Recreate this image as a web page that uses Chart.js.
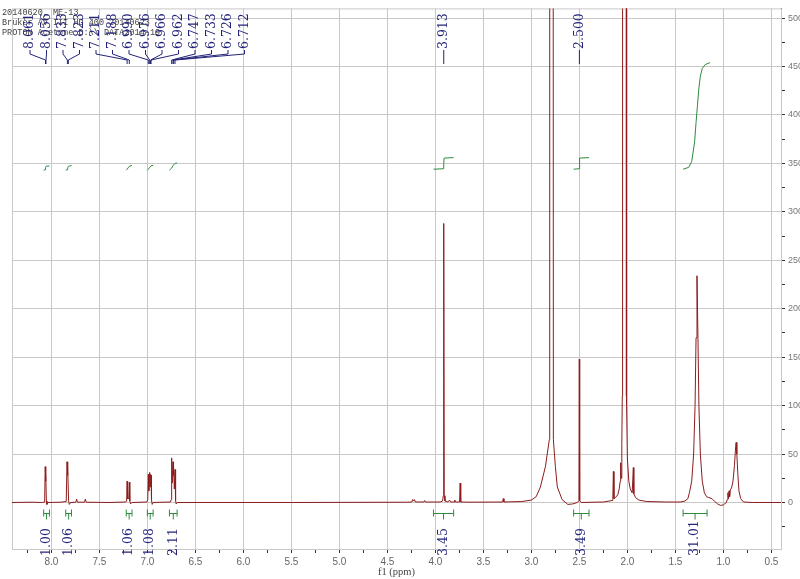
<!DOCTYPE html>
<html>
<head>
<meta charset="utf-8">
<title>ME-13 PROTON</title>
<script src="https://cdn.jsdelivr.net/npm/chart.js@4.4.0/dist/chart.umd.min.js"></script>
<style>
  html, body { margin: 0; padding: 0; background: #fff; }
</style>
</head>
<body>
<canvas id="nmr" width="800" height="579"></canvas>
<script>
// spectrum trace: shift (ppm) and intensity
const specPpm = [
  8.41, 8.20, 8.10, 8.070, 8.064, 8.060, 8.057, 8.052, 8.046, 8.035,
  7.900, 7.845, 7.837, 7.832, 7.828, 7.821, 7.813, 7.800,
  7.745, 7.737, 7.728, 7.655, 7.646, 7.637, 7.400,
  7.225, 7.216, 7.211, 7.206, 7.194, 7.188, 7.183, 7.175, 7.160,
  7.005, 6.996, 6.990, 6.985, 6.979, 6.976, 6.971, 6.966, 6.962, 6.957, 6.950, 6.940,
  6.760, 6.752, 6.747, 6.741, 6.733, 6.729, 6.726, 6.719, 6.712, 6.706, 6.700, 6.690,
  5.500, 4.300, 4.245, 4.237, 4.228, 4.218, 4.208, 4.120, 4.112, 4.104,
  3.950, 3.925, 3.918, 3.913, 3.908, 3.900, 3.870, 3.852, 3.842, 3.805, 3.798, 3.790,
  3.748, 3.742, 3.736, 3.650, 3.300, 3.293, 3.286,
  3.100, 3.000, 2.950, 2.906, 2.854, 2.813, 2.809, 2.775, 2.771, 2.750, 2.730, 2.680, 2.620, 2.570,
  2.520, 2.505, 2.501, 2.497, 2.480,
  2.250, 2.160, 2.152, 2.146, 2.140, 2.125, 2.100, 2.085, 2.075, 2.070, 2.065, 2.058, 2.053,
  2.050, 2.013, 2.010, 2.000, 1.985, 1.970, 1.950, 1.938, 1.933, 1.915, 1.880, 1.800, 1.600,
  1.450, 1.400, 1.370, 1.354, 1.330, 1.310, 1.295, 1.285, 1.275, 1.265, 1.255, 1.240, 1.220,
  1.198, 1.175, 1.150, 1.120, 1.090, 1.060, 1.030, 1.000, 0.970,
  0.960, 0.953, 0.947, 0.941, 0.935, 0.928, 0.915, 0.900, 0.885, 0.872, 0.867, 0.860, 0.850,
  0.838, 0.820, 0.790, 0.700, 0.400
];
const specInt = [
  0, 0.3, 0, 0.5, 37, 22, 30, 1.5, -2, 0,
  0.3, 1, 42, 28, 38, 2, -2, 0,
  0.3, 3.5, 0.3, 0.3, 3.5, 0.3, 0,
  0.5, 1.5, 22, 4, 4, 21, 1.5, -1.5, 0,
  0.5, 3, 29, 12, 20, 31, 16, 29, 28, 3, -2, 0,
  0.5, 3, 46, 20, 42, 28, 38, 14, 34, 2, -1.5, 0,
  0, 0.3, 0.5, 3, 1.5, 3, 0.5, 0.5, 2, 0.5,
  0.5, 1.5, 7, 288, 7, 1.5, 0.5, 2.5, 0.5, 0.5, 2.5, 0.5,
  0.5, 20, 0.5, 0.3, 0.5, 4, 0.5,
  1, 2.5, 6, 16, 37, 65, 1200, 1200, 65, 37, 16, 3, -2, -1.5,
  0, 2, 148, 2, 0,
  0.5, 2, 3, 32, 4, 5, 8, 14, 22, 41, 25, 60, 110,
  1200, 1200, 110, 45, 22, 14, 10, 36, 9, 5, 2.5, 1, 0.5,
  0.5, 1.5, 4, 10, 22, 50, 100, 170, 234, 170, 100, 50, 22,
  10, 6, 5, 4, 1, -1.5, -3, -2.5, 0,
  3, 10, 4, 12, 6, 13, 15, 22, 38, 58, 62, 50, 30,
  12, 4, 0.5, 0, 0
];

// picked peaks shown at the top
const peakShifts = [8.061, 8.056, 7.833, 7.823, 7.211, 7.188, 6.990, 6.976, 6.966, 6.962,
                    6.747, 6.733, 6.726, 6.712, 3.913, 2.500];

// integration regions and values
const intFrom = [8.08, 7.85, 7.22, 7.00, 6.77, 4.02, 2.56, 1.42];
const intTo = [8.02, 7.79, 7.16, 6.94, 6.69, 3.81, 2.40, 1.17];
const intValues = [1.00, 1.06, 1.06, 1.08, 2.11, 3.45, 3.49, 31.01];

// integral curves (green traces)
const intCurvePpm = [
  [8.08, 8.066, 8.061, 8.055, 8.02],
  [7.85, 7.837, 7.830, 7.822, 7.79],
  [7.22, 7.212, 7.200, 7.186, 7.16],
  [7.00, 6.990, 6.975, 6.962, 6.94],
  [6.77, 6.748, 6.730, 6.712, 6.69],
  [4.02, 3.917, 3.913, 3.909, 3.81],
  [2.56, 2.504, 2.500, 2.496, 2.40],
  [1.42, 1.36, 1.33, 1.30, 1.285, 1.27, 1.255, 1.24, 1.22, 1.19, 1.14]
];
const intCurveVal = [
  [343, 343.5, 345.5, 347, 347.5],
  [343, 343.5, 345.5, 347, 347.8],
  [343, 343.8, 345.5, 347.2, 347.8],
  [343, 344, 346, 347.5, 348],
  [343, 345, 348, 350, 350.5],
  [344, 344.5, 350, 355.5, 356],
  [344, 344.5, 350, 355.5, 356],
  [344, 346, 352, 372, 392, 410, 428, 440, 448, 452, 454]
];

const headerLines = [
  '20140620, ME-13',
  'Bruker AV III HD 400 20140623',
  'PROTON Acetone D:\\\\ DATA2014-19'
];

const RED = '#8c1c1c';
const GREEN = '#2e8b3e';
const NAVY = '#23237a';
const GRID = '#c8c8c8';

function isStep(v, step) {
  return Math.abs(v / step - Math.round(v / step)) < 1e-6;
}

// spread crowded peak labels so they do not overlap
function spreadLabels(px, gap, minX) {
  const groups = [];
  px.forEach((p, i) => {
    groups.push({ ids: [i], c: p });
    while (groups.length > 1) {
      const g = groups[groups.length - 1];
      const prev = groups[groups.length - 2];
      const gStart = g.c - (g.ids.length - 1) * gap / 2;
      const pEnd = prev.c + (prev.ids.length - 1) * gap / 2;
      if (gStart - pEnd >= gap) break;
      const ids = prev.ids.concat(g.ids);
      const c = ids.reduce((s, k) => s + px[k], 0) / ids.length;
      groups.splice(-2, 2, { ids, c });
    }
  });
  const out = [];
  groups.forEach(g => {
    const start = Math.max(g.c - (g.ids.length - 1) * gap / 2, minX);
    g.ids.forEach((k, j) => { out[k] = start + j * gap; });
  });
  return out;
}

const nmrDecor = {
  id: 'nmrDecor',
  beforeDatasetsDraw(chart) {
    const { ctx, chartArea: a } = chart;
    ctx.save();
    ctx.strokeStyle = GRID;
    ctx.lineWidth = 1;
    ctx.strokeRect(a.left + 0.5, a.top + 0.5, a.right - a.left, a.bottom - a.top);
    ctx.restore();
  },
  afterDraw(chart) {
    const { ctx, chartArea: a } = chart;
    const xs = chart.scales.x, ys = chart.scales.y;
    ctx.save();

    // acquisition header
    ctx.fillStyle = '#444';
    ctx.font = '8.5px "Liberation Mono"';
    ctx.textBaseline = 'middle';
    headerLines.forEach((t, i) => ctx.fillText(t, 2, 12.5 + i * 10));

    // peak labels + connectors
    const px = peakShifts.map(p => xs.getPixelForValue(p));
    const lx = spreadLabels(px, 16.5, a.left + 18);
    ctx.fillStyle = NAVY;
    ctx.strokeStyle = NAVY;
    ctx.lineWidth = 1;
    ctx.font = '12.5px "DejaVu Serif"';
    peakShifts.forEach((p, k) => {
      ctx.save();
      ctx.translate(lx[k], 49);
      ctx.rotate(-Math.PI / 2);
      ctx.textAlign = 'left';
      ctx.textBaseline = 'middle';
      ctx.fillText(p.toFixed(3), 0, 0);
      ctx.restore();
      ctx.beginPath();
      ctx.moveTo(lx[k], 50);
      ctx.lineTo(lx[k], 54);
      ctx.lineTo(px[k], 60);
      ctx.lineTo(px[k], 64);
      ctx.stroke();
    });

    // integration bars and values
    const yb = Math.round(ys.getPixelForValue(-10.5)) + 0.5;
    intFrom.forEach((f, k) => {
      const x1 = xs.getPixelForValue(f);
      const x2 = xs.getPixelForValue(intTo[k]);
      const xm = (x1 + x2) / 2;
      ctx.strokeStyle = GREEN;
      ctx.beginPath();
      ctx.moveTo(x1, yb); ctx.lineTo(x2, yb);
      ctx.moveTo(x1, yb - 4); ctx.lineTo(x1, yb + 3);
      ctx.moveTo(x2, yb - 4); ctx.lineTo(x2, yb + 3);
      ctx.moveTo(xm, yb); ctx.lineTo(xm, yb + 6);
      ctx.stroke();
      ctx.save();
      ctx.fillStyle = NAVY;
      ctx.translate(xm, 556);
      ctx.rotate(-Math.PI / 2);
      ctx.textAlign = 'left';
      ctx.textBaseline = 'middle';
      ctx.fillText(intValues[k].toFixed(2), 0, 0);
      ctx.restore();
    });
    ctx.restore();
  }
};

const datasets = [{
  data: specPpm.map((p, i) => ({ x: p, y: specInt[i] })),
  borderColor: RED,
  borderWidth: 1
}];
intCurvePpm.forEach((ppm, k) => {
  datasets.push({
    data: ppm.map((p, i) => ({ x: p, y: intCurveVal[k][i] })),
    borderColor: GREEN,
    borderWidth: 1
  });
});

new Chart(document.getElementById('nmr').getContext('2d'), {
  type: 'line',
  data: { datasets },
  options: {
    responsive: false,
    animation: false,
    layout: { padding: { left: 12, top: 7, right: 0, bottom: 0 } },
    plugins: { legend: { display: false }, tooltip: { enabled: false } },
    elements: { point: { radius: 0 }, line: { tension: 0 } },
    scales: {
      x: {
        type: 'linear',
        reverse: true,
        min: 0.40,
        max: 8.41,
        afterFit: s => { s.height = 30; },
        border: { display: true, color: '#222' },
        grid: {
          color: c => isStep(c.tick.value, 0.5) ? GRID : 'rgba(0,0,0,0)',
          tickColor: '#333',
          tickLength: 4
        },
        ticks: {
          stepSize: 0.25,
          includeBounds: false,
          autoSkip: false,
          maxRotation: 0,
          padding: 3,
          color: '#666',
          font: { family: '"Liberation Sans"', size: 10 },
          callback: v => isStep(v, 0.5) ? v.toFixed(1) : ''
        },
        title: {
          display: true,
          text: 'f1 (ppm)',
          color: '#444',
          font: { family: '"Liberation Serif"', size: 10.5 },
          padding: { top: 0, bottom: 0 }
        }
      },
      y: {
        position: 'right',
        min: -48,
        max: 510,
        afterFit: s => { s.width = 19; },
        border: { display: true, color: '#222' },
        grid: {
          color: c => isStep(c.tick.value, 50) ? GRID : 'rgba(0,0,0,0)',
          tickColor: '#333',
          tickLength: 4
        },
        ticks: {
          stepSize: 25,
          includeBounds: false,
          autoSkip: false,
          padding: 3,
          color: '#777',
          font: { family: '"Liberation Sans"', size: 9 },
          callback: v => isStep(v, 50) ? String(v) : ''
        }
      }
    }
  },
  plugins: [nmrDecor]
});
</script>
</body>
</html>
